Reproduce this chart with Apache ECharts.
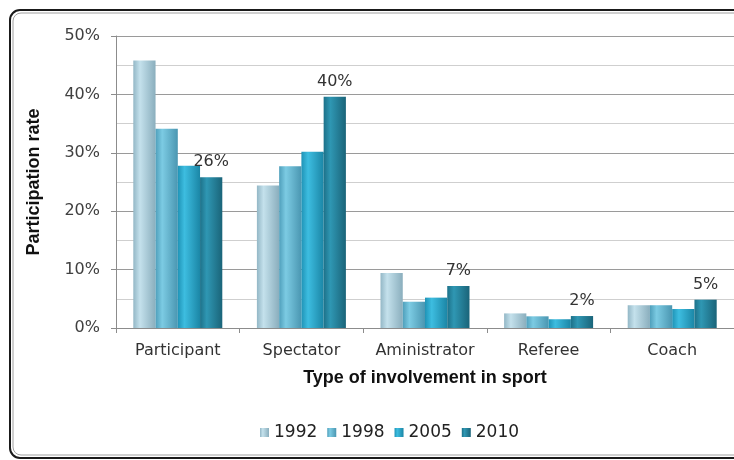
<!DOCTYPE html>
<html>
<head>
<meta charset="utf-8">
<script src="https://cdn.jsdelivr.net/npm/echarts@6/dist/echarts.min.js"></script>
<style>html,body{margin:0;padding:0;background:#fff;}#c{width:734px;height:460px;}</style>
</head>
<body>
<div id="c"></div>
<script>
const categories = ['Participant', 'Spectator', 'Aministrator', 'Referee', 'Coach'];
const years = ['1992', '1998', '2005', '2010'];
const v1992 = [45.8, 24.4, 9.4, 2.5, 3.9];
const v1998 = [34.1, 27.7, 4.5, 2.0, 3.9];
const v2005 = [27.8, 30.2, 5.2, 1.5, 3.25];
const v2010 = [25.8, 39.6, 7.2, 2.05, 4.85];
const yTickValues = [0, 10, 20, 30, 40, 50];

const seriesValues = [v1992, v1998, v2005, v2010];
const palettes = [
  ['#93b7c6', '#c4e1ec', '#8aaebd'],
  ['#4f9fbb', '#7ccbe3', '#4a96b1'],
  ['#1f93b6', '#3dbde0', '#1b86a6'],
  ['#1d7189', '#2f97b3', '#1a6479']
];
function grad(p) {
  return new echarts.graphic.LinearGradient(0, 0, 1, 0, [
    { offset: 0, color: p[0] },
    { offset: 0.3, color: p[1] },
    { offset: 1, color: p[2] }
  ]);
}
const chart = echarts.init(document.getElementById('c'), null, { renderer: 'canvas' });
const series = years.map((y, i) => ({
  name: y,
  type: 'bar',
  data: seriesValues[i],
  barGap: '0%',
  barCategoryGap: '28%',
  itemStyle: { color: grad(palettes[i]) },
  label: i === 3 ? {
    show: true,
    position: 'top',
    distance: 7,
    formatter: p => Math.round(p.value) + '%',
    fontFamily: 'DejaVu Sans',
    fontSize: 16,
    color: '#333'
  } : { show: false }
}));

chart.setOption({
  animation: false,
  backgroundColor: '#fff',
  graphic: [
    { type: 'rect', silent: true, shape: { x: 10, y: 10, width: 780, height: 448, r: 10 },
      style: { fill: 'none', stroke: '#1a1a1a', lineWidth: 2 } },
    { type: 'rect', silent: true, shape: { x: 13, y: 13, width: 780, height: 442, r: 8 },
      style: { fill: 'none', stroke: '#a0a0a0', lineWidth: 1 } }
  ],
  legend: {
    data: years,
    left: 255,
    top: 419,
    itemWidth: 9,
    itemHeight: 9,
    itemGap: 10,
    icon: 'rect',
    textStyle: { fontFamily: 'DejaVu Sans', fontSize: 17, color: '#222' }
  },
  grid: { left: 116, right: -7, top: 36, bottom: 132 },
  xAxis: {
    type: 'category',
    data: categories,
    name: 'Type of involvement in sport',
    nameLocation: 'middle',
    nameGap: 41,
    nameTextStyle: { fontFamily: 'Liberation Sans', fontWeight: 'bold', fontSize: 18, color: '#111' },
    axisLine: { lineStyle: { color: '#8c8c8c' } },
    axisTick: { show: true, interval: 0, length: 5, lineStyle: { color: '#8c8c8c' } },
    axisLabel: { interval: 0, hideOverlap: false, margin: 15, fontFamily: 'DejaVu Sans', fontSize: 16, color: '#333' }
  },
  yAxis: {
    type: 'value',
    min: yTickValues[0],
    max: yTickValues[yTickValues.length - 1],
    interval: 10,
    name: 'Participation rate',
    nameLocation: 'middle',
    nameGap: 73,
    nameTextStyle: { fontFamily: 'Liberation Sans', fontWeight: 'bold', fontSize: 18, color: '#111' },
    axisLine: { show: true, lineStyle: { color: '#8c8c8c' } },
    axisTick: { show: true, length: 5, lineStyle: { color: '#8c8c8c' } },
    axisLabel: { margin: 16, formatter: v => v + '%', fontFamily: 'DejaVu Sans', fontSize: 16, color: '#404040' },
    splitLine: { show: true, lineStyle: { color: '#9a9a9a', width: 1 } },
    minorTick: { show: false, splitNumber: 2 },
    minorSplitLine: { show: true, lineStyle: { color: '#cfcfcf', width: 1 } }
  },
  series: series
});
</script>
</body>
</html>
